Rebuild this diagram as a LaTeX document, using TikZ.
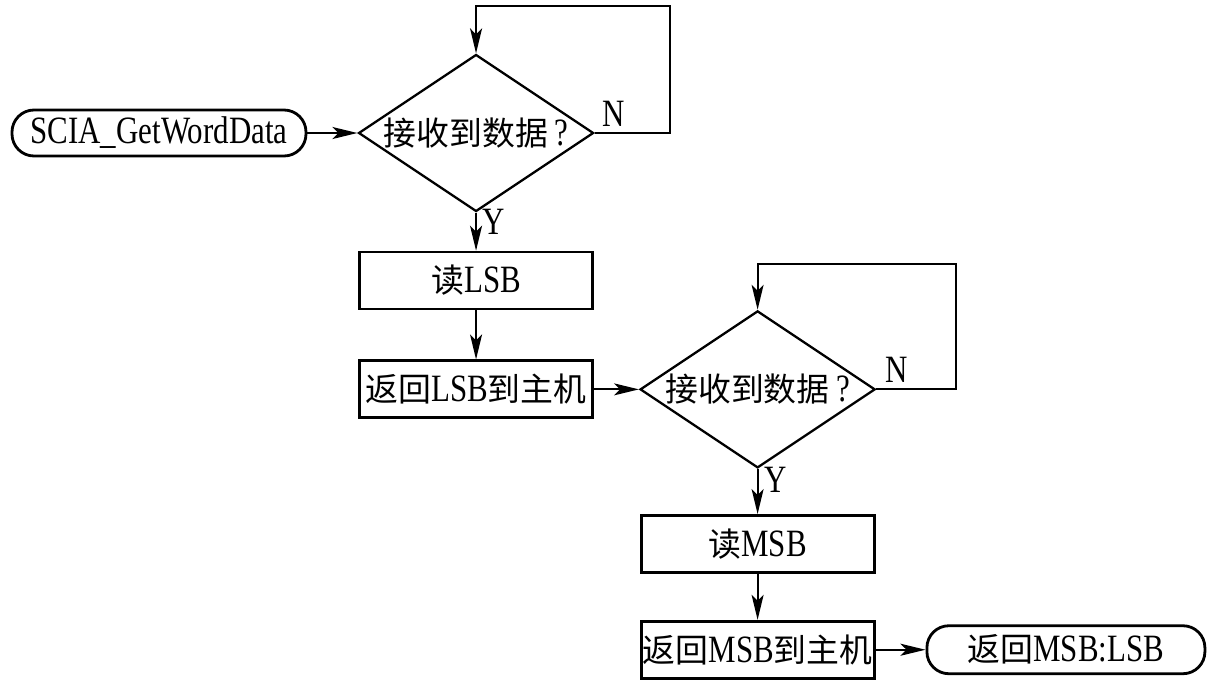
\documentclass[tikz,border=0pt]{standalone}
\usepackage{fontspec}
\setmainfont{Liberation Serif}[FakeStretch=0.8]
\newfontfamily\cjk[Scale=0.85]{Noto Sans CJK SC}
\usetikzlibrary{arrows.meta, positioning, shapes.geometric}
\newcommand{\zh}[1]{{\cjk #1}}

\begin{document}
\begin{tikzpicture}[
  node distance=1cm,
  font=\fontsize{22}{26}\selectfont,
  termbox/.style={
    rectangle, rounded corners=0.44cm, draw, line width=1.6pt,
    minimum width=5.88cm, minimum height=0.92cm, inner sep=0pt,
  },
  procbox/.style={
    rectangle, draw, line width=1.6pt,
    minimum width=4.66cm, minimum height=1.14cm, inner sep=0pt,
  },
  decision/.style={
    diamond, draw, line width=1.3pt, aspect=1.5,
    minimum width=4.7cm, minimum height=3.14cm, inner sep=0pt,
  },
  flow/.style={-{Stealth[length=5mm, width=2.4mm, inset=1.2mm]}, line width=1.1pt},
]
\useasboundingbox (0,0) rectangle (24.34,-13.7);

% First byte (LSB)
\node[termbox] (start) at (3.18,-2.66) {SCIA\_GetWordData};
\node[decision, right=1.0cm of start] (rx1) {\makebox[3.2cm]{\zh{接收到数据}\,?}};
\node[procbox, below=0.76cm of rx1] (rdlsb) {\zh{读}LSB};
\node[procbox, below=0.98cm of rdlsb] (retlsb) {\zh{返回}LSB\zh{到主机}};

% Second byte (MSB)
\node[decision, right=0.9cm of retlsb] (rx2) {\makebox[3.2cm]{\zh{接收到数据}\,?}};
\node[procbox, below=0.9cm of rx2] (rdmsb) {\zh{读}MSB};
\node[procbox, below=0.92cm of rdmsb] (retmsb) {\zh{返回}MSB\zh{到主机}};
\node[termbox, minimum width=5.56cm, minimum height=0.96cm, right=1.0cm of retmsb] (stop) {\zh{返回}MSB:LSB};

% Connectors
\draw[flow] (start) -- (rx1);
\draw[flow] (rx1.east) -- node[pos=0.25, above] {N} ++(1.5,0)
  |- ([yshift=0.94cm]rx1.north) -- (rx1.north);
\draw[flow] (rx1) -- node[pos=0.25, right] {Y} (rdlsb);
\draw[flow] (rdlsb) -- (retlsb);
\draw[flow] (retlsb) -- (rx2);
\draw[flow] (rx2.east) -- node[pos=0.25, above] {N} ++(1.6,0)
  |- ([yshift=0.92cm]rx2.north) -- (rx2.north);
\draw[flow] (rx2) -- node[pos=0.25, right] {Y} (rdmsb);
\draw[flow] (rdmsb) -- (retmsb);
\draw[flow] (retmsb) -- (stop);

\end{tikzpicture}
\end{document}
